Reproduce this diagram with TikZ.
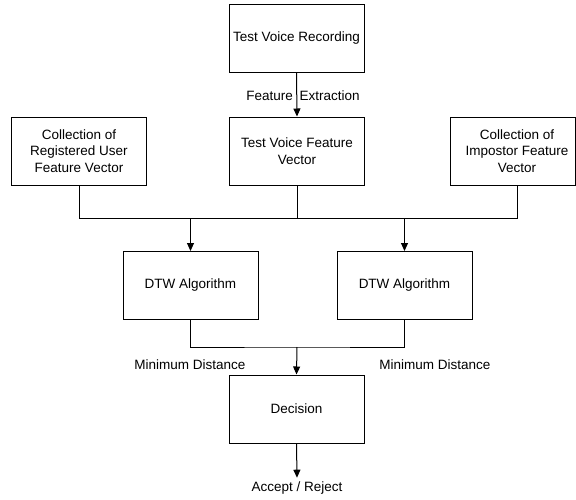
\documentclass[tikz,border=0pt]{standalone}
\usepackage{fontspec}
\setmainfont{Liberation Sans}
\usetikzlibrary{arrows.meta}
\begin{document}
\begin{tikzpicture}[x=1pt,y=-1pt,
  box/.style={draw=black, line width=1pt, minimum width=135pt, minimum height=68pt, inner sep=2pt, align=center, font=\fontsize{13.5}{16.5}\selectfont},
  lbl/.style={inner sep=4pt, outer sep=0pt, font=\fontsize{13.5}{16.5}\selectfont},
  conn/.style={draw=black, line width=1pt},
  arr/.style={conn, -{Triangle[width=7pt,length=8pt]}}]
\useasboundingbox (0,0) rectangle (576,499);
\node[box] (rec) at (296.5,38.5) {Test Voice Recording};
\node[box] (tfv) at (297,151) {Test Voice Feature\\Vector};
\node[box] (reg) at (79,151) {Collection of\\Registered User\\Feature Vector};
\node[box, minimum width=125pt] (imp) at (512.5,151) {\hspace*{9pt}Collection of\\\hspace*{9pt}Impostor Feature\\\hspace*{9pt}Vector};
\node[box] (dtw1) at (190.5,285.5) {DTW Algorithm};
\node[box] (dtw2) at (404.5,285.5) {DTW Algorithm};
\node[box] (dec) at (296.5,409) {Decision};
\node[lbl] (fe) at (303,96) {Feature\hspace{3pt} Extraction};
\node[lbl] (md1) at (190,365) {Minimum Distance};
\node[lbl] (md2) at (435,365) {Minimum Distance};
\node[lbl] (acc) at (297,488) {Accept / Reject};
\coordinate (h1) at (297,218);
\coordinate (h2) at (297,347);
\draw[arr] (rec.south) -- (tfv.north);
\draw[conn] (reg.south) |- (h1);
\draw[conn] (tfv.south) -- (h1);
\draw[conn] ([xshift=4.5pt]imp.south) |- (h1);
\draw[arr] (dtw1.north |- h1) -- (dtw1.north);
\draw[arr] (dtw2.north |- h1) -- (dtw2.north);
\draw[conn] (dtw1.south) |- (h2) -| (dtw2.south);
\draw[arr] (h2) -- (dec.north);
\draw[arr] (dec.south) -- (acc.north);
\end{tikzpicture}
\end{document}
